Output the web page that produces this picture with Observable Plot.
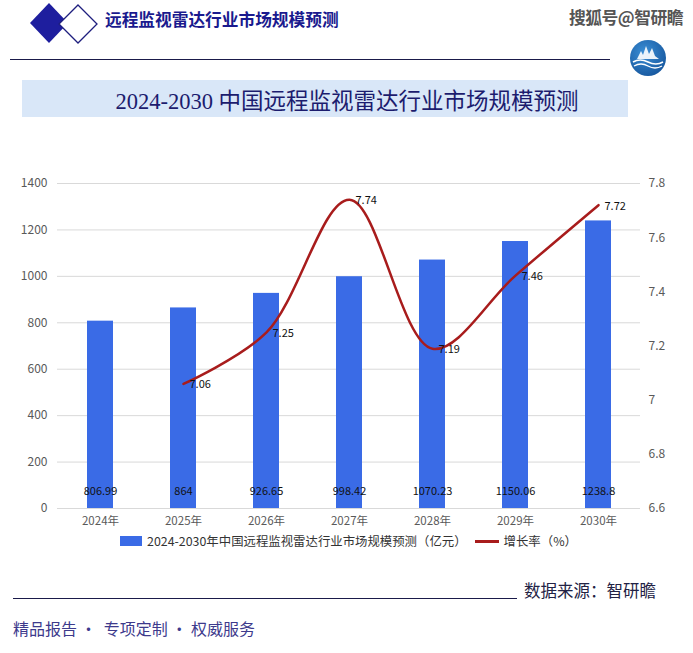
<!DOCTYPE html>
<html>
<head>
<meta charset="utf-8">
<script src="https://cdn.jsdelivr.net/npm/d3@7"></script>
<script src="https://cdn.jsdelivr.net/npm/@observablehq/plot@0.6"></script>
<style>
  html, body { margin: 0; padding: 0; background: #fff; }
  body { width: 693px; height: 653px; position: relative; overflow: hidden; font-family: "Noto Sans CJK SC", "Noto Sans", sans-serif; }
  .abs { position: absolute; }
  #hdrTitle { left: 105px; top: 7px; font-size: 16.7px; font-weight: bold; color: #1a1a8e; white-space: nowrap; }
  #sohu { left: 569px; top: 5px; font-size: 16.8px; font-weight: bold; color: #555; white-space: nowrap; letter-spacing: -0.5px; }
  #hdrLine { left: 10px; top: 59px; width: 600px; height: 0; border-top: 1.3px solid #1a1a4a; }
  #titleBox { left: 22px; top: 80px; width: 606px; height: 37px; background: #d9e7f8; display: flex; align-items: center; justify-content: center; }
  #titleBox span { font-family: "Liberation Serif", "Noto Sans CJK SC", serif; font-size: 22.5px; color: #1c1c6e; white-space: nowrap; margin-left: 44px; }
  #chart { left: 0; top: 170px; }
  #legend { left: 57px; width: 583px; top: 532px; display: flex; justify-content: center; align-items: center; font-size: 12.4px; color: #333; white-space: nowrap; }
  .sw { display: inline-block; width: 22px; height: 10px; background: #3a6be6; margin-right: 5px; }
  .ln { display: inline-block; width: 24px; height: 0; border-top: 3px solid #a81c1c; margin: 0 5px 0 8px; }
  #srcLine { left: 13px; top: 598px; width: 504px; height: 0; border-top: 1.3px solid #1a1a4a; }
  #src { left: 524px; top: 578px; font-size: 16.5px; color: #222244; white-space: nowrap; }
  #slogan { left: 13px; top: 616px; font-size: 16px; color: #3d3a8c; white-space: nowrap; }
</style>
</head>
<body>
<svg class="abs" style="left:0;top:0" width="110" height="50">
  <polygon points="49,3 68,23 49,43 30,23" fill="#1e1e9e"/>
  <polygon points="78,5 97,24 78,43 59,24" fill="#fff" stroke="#1e1e7e" stroke-width="1.3"/>
</svg>
<div id="hdrTitle" class="abs">远程监视雷达行业市场规模预测</div>
<div id="sohu" class="abs">搜狐号@智研瞻</div>
<div id="hdrLine" class="abs"></div>
<svg class="abs" style="left:628px;top:38px" width="40" height="40">
  <defs><radialGradient id="lg" cx="0.4" cy="0.35" r="0.7"><stop offset="0" stop-color="#3b8fd6"/><stop offset="1" stop-color="#17579e"/></radialGradient></defs>
  <circle cx="20" cy="20" r="18" fill="url(#lg)"/>
  <path d="M9 21 L13 13 L15 17 L18 8 L21 16 L24 10 L27 18 L31 21 Z" fill="#fff" opacity="0.9"/>
  <path d="M5 24 Q12 20 20 24 T35 24" stroke="#fff" stroke-width="1.6" fill="none"/>
  <path d="M6 28 Q13 24 20 28 T34 28" stroke="#fff" stroke-width="1.4" fill="none"/>
</svg>
<div id="titleBox" class="abs"><span>2024-2030 中国远程监视雷达行业市场规模预测</span></div>
<div id="chart" class="abs"></div>
<div id="legend" class="abs"><span class="sw"></span><span>2024-2030年中国远程监视雷达行业市场规模预测（亿元）</span><span class="ln"></span><span>增长率（%）</span></div>
<div id="srcLine" class="abs"></div>
<div id="src" class="abs">数据来源：智研瞻</div>
<div id="slogan" class="abs">精品报告 ·&nbsp; 专项定制 · 权威服务</div>
<script>
const years = ["2024年", "2025年", "2026年", "2027年", "2028年", "2029年", "2030年"];
const marketSize = [806.99, 864, 926.65, 998.42, 1070.23, 1150.06, 1238.8];
const growthYears = ["2025年", "2026年", "2027年", "2028年", "2029年", "2030年"];
const growthRate = [7.06, 7.25, 7.74, 7.19, 7.46, 7.72];
const leftTicks = [0, 200, 400, 600, 800, 1000, 1200, 1400];
const rightTicks = [6.6, 6.8, 7.0, 7.2, 7.4, 7.6, 7.8];

const leftMax = 1400, rMin = 6.6, rMax = 7.8;
const toLeft = g => (g - rMin) / (rMax - rMin) * leftMax;
const fromLeft = v => +(rMin + v / leftMax * (rMax - rMin)).toFixed(1);

const bars = years.map((y, i) => ({year: y, value: marketSize[i]}));
const growth = growthYears.map((y, i) => ({year: y, rate: growthRate[i]}));

const chart = Plot.plot({
  width: 693,
  height: 360,
  marginTop: 13,
  marginBottom: 22,
  marginLeft: 57,
  marginRight: 53,
  style: {fontFamily: "'Noto Sans CJK SC', 'Noto Sans', sans-serif", fontSize: "12px", background: "transparent"},
  x: {domain: years, paddingInner: 0.69, paddingOuter: 0.345, label: null},
  y: {domain: [0, leftMax], label: null},
  marks: [
    Plot.gridY(leftTicks, {stroke: "#d9d9d9", strokeOpacity: 1, strokeWidth: 1}),
    Plot.axisY(leftTicks, {anchor: "left", tickSize: 0, tickPadding: 10, label: null, tickFormat: d => String(d), fill: "#595959", fontSize: 12}),
    Plot.axisY(rightTicks.map(toLeft), {anchor: "right", tickSize: 0, tickPadding: 8, label: null, tickFormat: v => String(fromLeft(v)), fill: "#595959", fontSize: 12}),
    Plot.axisX({tickSize: 0, tickPadding: 8, label: null, fill: "#595959", fontSize: 11.5}),
    Plot.barY(bars, {x: "year", y: "value", fill: "#3a6be6"}),
    Plot.text(bars, {x: "year", text: d => String(d.value), frameAnchor: "bottom", dy: -14, fill: "#111", fontSize: 11}),
    Plot.line(growth, {x: "year", y: d => toLeft(d.rate), stroke: "#a81c1c", strokeWidth: 2.5, curve: "catmull-rom"}),
    Plot.text(growth, {x: "year", y: d => toLeft(d.rate), text: d => String(d.rate), textAnchor: "start", dx: 6, dy: 1, fill: "#111", fontSize: 11})
  ]
});
document.getElementById("chart").appendChild(chart);
</script>
</body>
</html>
